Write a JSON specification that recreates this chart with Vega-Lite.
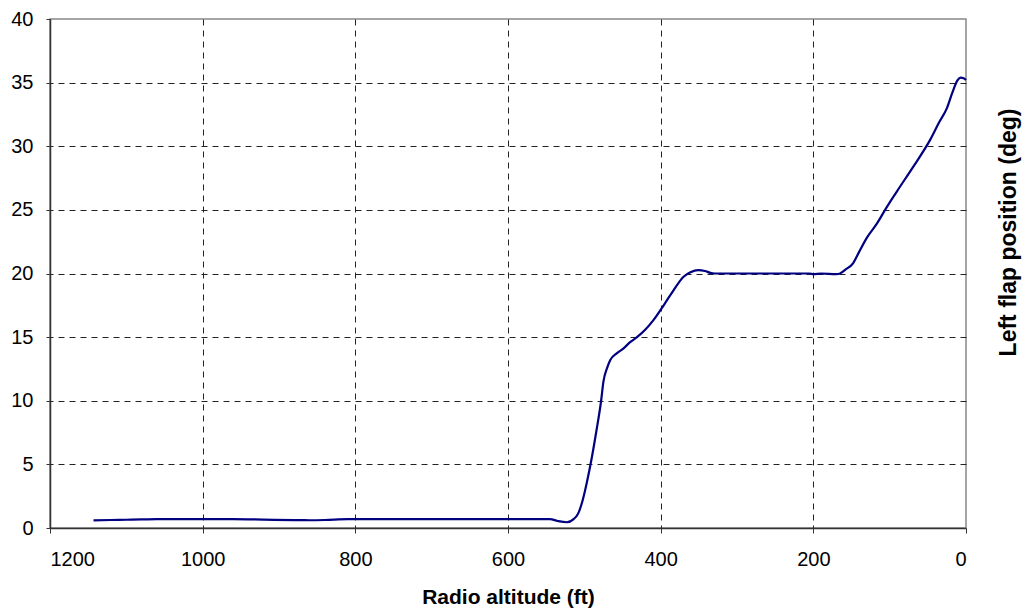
{
  "$schema": "https://vega.github.io/schema/vega-lite/v6.json",
  "width": 916,
  "height": 509,
  "autosize": "none",
  "padding": {"left": 50, "top": 19, "right": 61, "bottom": 84},
  "background": "white",
  "config": {
    "view": {"stroke": "#888888", "strokeWidth": 1.5},
    "font": "Liberation Sans",
    "axis": {
      "labelFont": "Liberation Sans",
      "titleFont": "Liberation Sans",
      "labelColor": "black",
      "titleColor": "black",
      "labelFontSize": 20,
      "titleFontSize": 21,
      "titleFontWeight": "bold",
      "domainColor": "#333333",
      "domainWidth": 1.5,
      "tickColor": "#333333",
      "tickWidth": 1,
      "gridColor": "#222222",
      "gridWidth": 1,
      "gridDash": [6, 5]
    }
  },
  "data": {
    "values": [
      {"alt": 1143, "flap": 0.6},
      {"alt": 1120, "flap": 0.63},
      {"alt": 1100, "flap": 0.65},
      {"alt": 1080, "flap": 0.67},
      {"alt": 1060, "flap": 0.7},
      {"alt": 1000, "flap": 0.7},
      {"alt": 960, "flap": 0.7},
      {"alt": 920, "flap": 0.66},
      {"alt": 880, "flap": 0.62},
      {"alt": 860, "flap": 0.61},
      {"alt": 840, "flap": 0.63},
      {"alt": 810, "flap": 0.7},
      {"alt": 700, "flap": 0.7},
      {"alt": 600, "flap": 0.7},
      {"alt": 545, "flap": 0.7},
      {"alt": 535, "flap": 0.55},
      {"alt": 523, "flap": 0.45},
      {"alt": 514, "flap": 0.7},
      {"alt": 508, "flap": 1.15},
      {"alt": 503, "flap": 2.0},
      {"alt": 497, "flap": 3.5},
      {"alt": 490, "flap": 5.6},
      {"alt": 484, "flap": 7.7},
      {"alt": 478, "flap": 10.0},
      {"alt": 475, "flap": 11.5},
      {"alt": 470, "flap": 12.6},
      {"alt": 466, "flap": 13.2},
      {"alt": 458, "flap": 13.7},
      {"alt": 449, "flap": 14.1},
      {"alt": 440, "flap": 14.6},
      {"alt": 431, "flap": 15.0},
      {"alt": 420, "flap": 15.6},
      {"alt": 410, "flap": 16.3},
      {"alt": 395, "flap": 17.6},
      {"alt": 383, "flap": 18.7},
      {"alt": 370, "flap": 19.75},
      {"alt": 361, "flap": 20.1},
      {"alt": 351, "flap": 20.27},
      {"alt": 342, "flap": 20.2},
      {"alt": 335, "flap": 20.05},
      {"alt": 329, "flap": 20.0},
      {"alt": 300, "flap": 20.0},
      {"alt": 250, "flap": 20.0},
      {"alt": 205, "flap": 20.0},
      {"alt": 200, "flap": 19.95},
      {"alt": 190, "flap": 20.0},
      {"alt": 170, "flap": 19.95},
      {"alt": 165, "flap": 20.0},
      {"alt": 158, "flap": 20.3},
      {"alt": 148, "flap": 20.8},
      {"alt": 140, "flap": 21.7},
      {"alt": 130, "flap": 22.8},
      {"alt": 117, "flap": 23.9},
      {"alt": 104, "flap": 25.2},
      {"alt": 90, "flap": 26.5},
      {"alt": 69, "flap": 28.4},
      {"alt": 47, "flap": 30.5},
      {"alt": 35, "flap": 31.9},
      {"alt": 25, "flap": 33.0},
      {"alt": 18, "flap": 34.2},
      {"alt": 11, "flap": 35.2},
      {"alt": 7, "flap": 35.4},
      {"alt": 3, "flap": 35.35},
      {"alt": 0, "flap": 35.2}
    ]
  },
  "layer": [
    {
      "mark": {"type": "line", "color": "#000080", "strokeWidth": 2.2, "interpolate": "monotone"},
      "encoding": {
        "x": {
          "field": "alt",
          "type": "quantitative",
          "scale": {"domain": [0, 1200], "reverse": true, "nice": false, "zero": false},
          "axis": {
            "values": [0, 200, 400, 600, 800, 1000, 1200],
            "format": "d",
            "title": "Radio altitude (ft)",
            "titleY": 75,
            "titleBaseline": "alphabetic",
            "tickSize": 5,
            "labelBaseline": "alphabetic",
            "labelPadding": 32,
            "gridOpacity": {"condition": {"test": "datum.value == 0 || datum.value == 1200", "value": 0}, "value": 1}
          }
        },
        "y": {
          "field": "flap",
          "type": "quantitative",
          "scale": {"domain": [0, 40], "nice": false},
          "axis": {
            "values": [0, 5, 10, 15, 20, 25, 30, 35, 40],
            "format": "d",
            "title": null,
            "tickSize": 4,
            "labelPadding": 13,
            "gridOpacity": {"condition": {"test": "datum.value == 0 || datum.value == 40", "value": 0}, "value": 1}
          }
        }
      }
    },
    {
      "mark": {"type": "line", "strokeOpacity": 0, "interpolate": "monotone"},
      "encoding": {
        "x": {"field": "alt", "type": "quantitative"},
        "y": {
          "field": "flap",
          "type": "quantitative",
          "axis": {
            "orient": "right",
            "title": "Left flap position (deg)",
            "titleFontSize": 23,
            "labels": false,
            "ticks": false,
            "domain": false,
            "grid": false,
            "titleAngle": -90,
            "titleX": 49,
            "titleY": 213,
            "titleAlign": "center",
            "titleBaseline": "alphabetic"
          }
        }
      }
    }
  ],
  "resolve": {"axis": {"y": "independent"}}
}
